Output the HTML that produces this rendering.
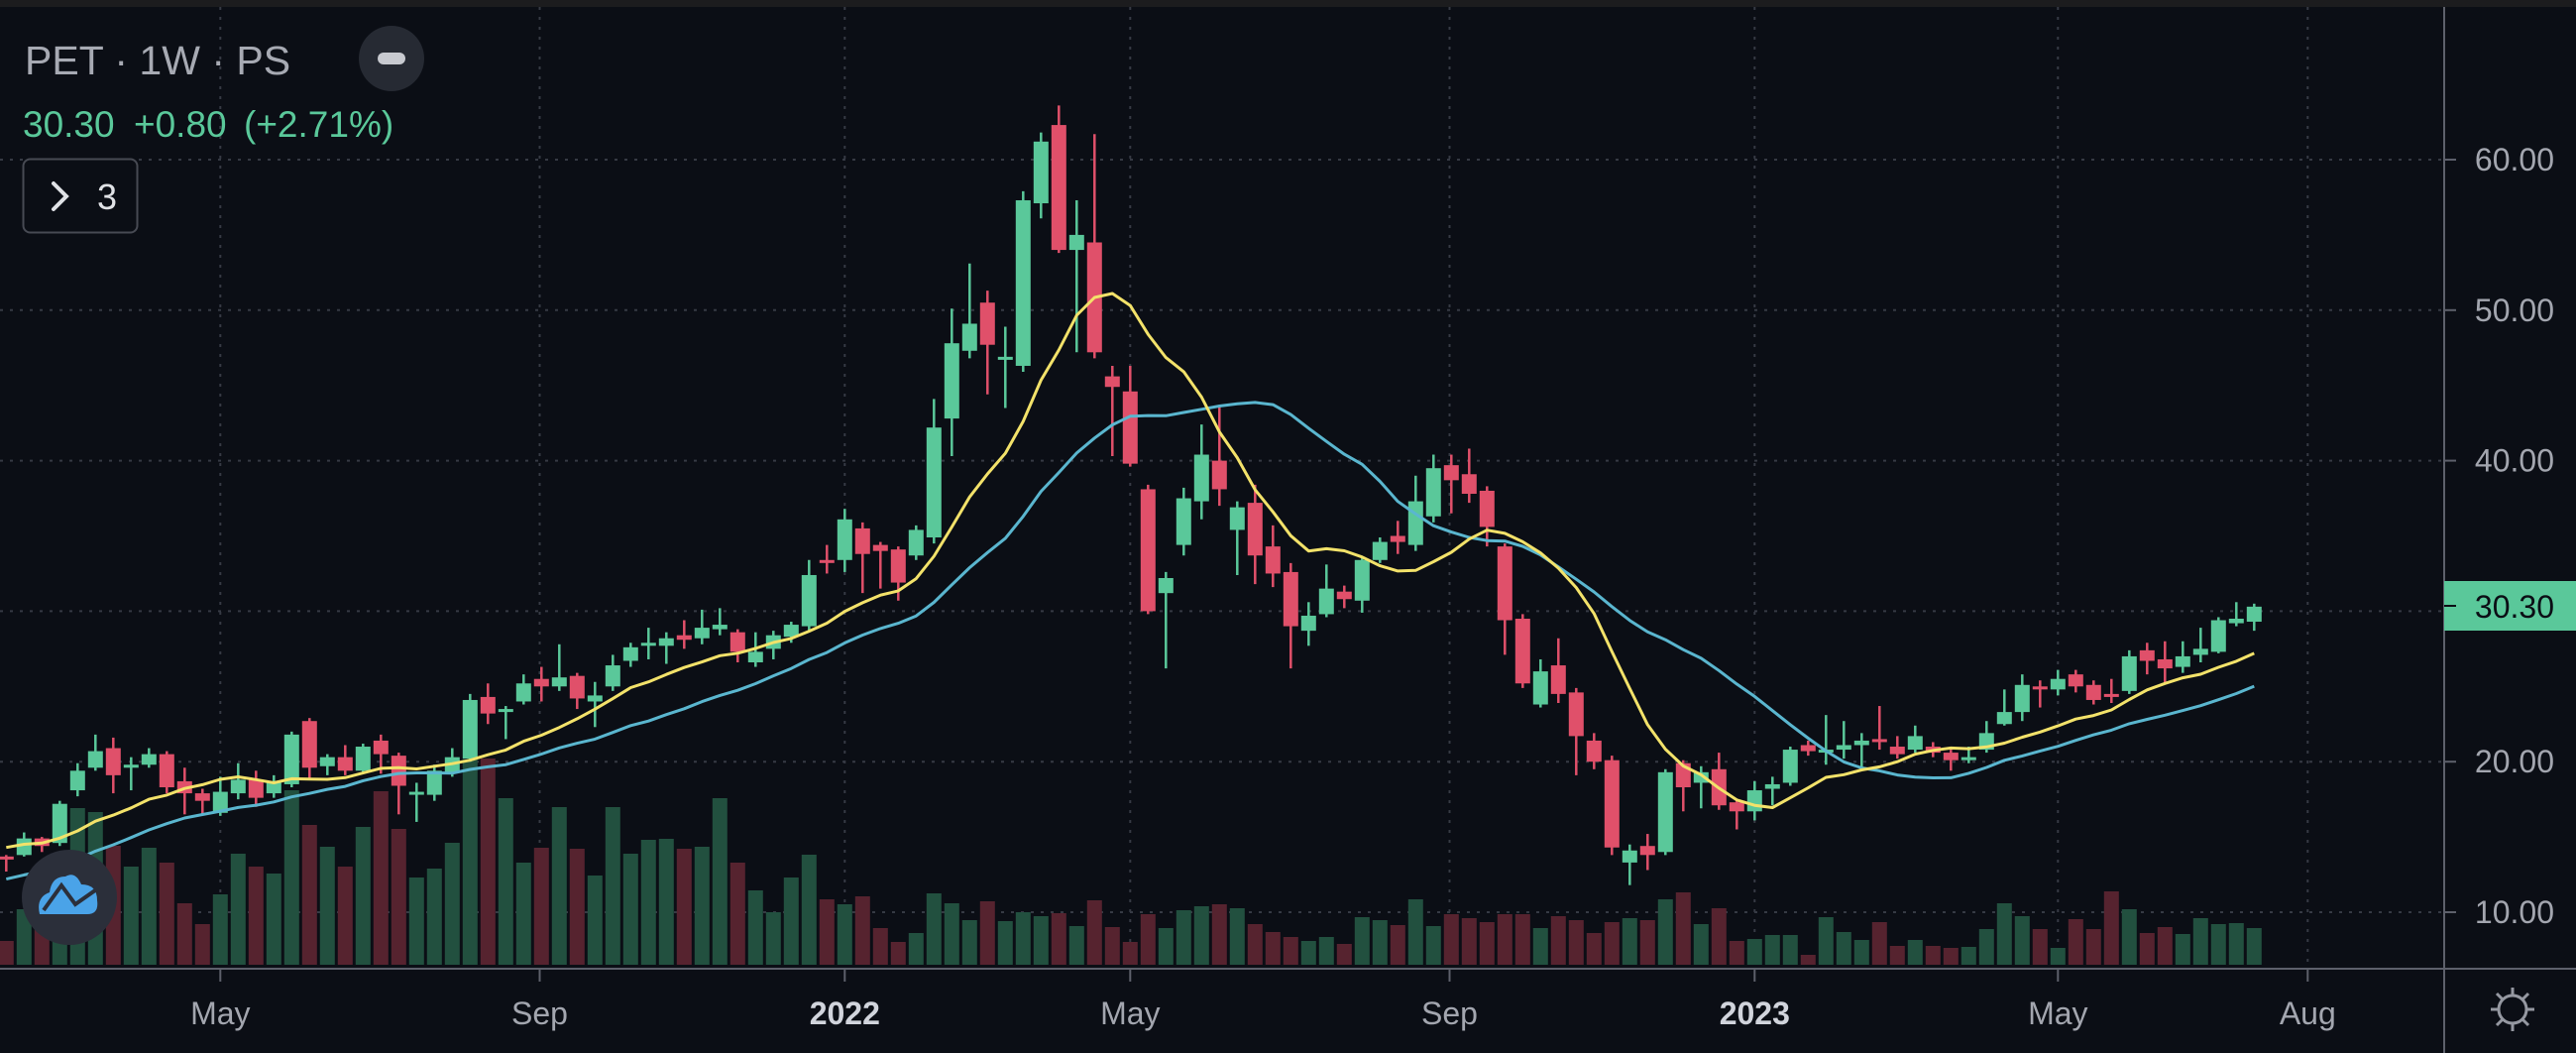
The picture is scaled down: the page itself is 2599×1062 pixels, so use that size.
<!DOCTYPE html>
<html><head><meta charset="utf-8"><style>
html,body{margin:0;padding:0;background:#0b0e15;}
svg{display:block;}
text{font-family:"Liberation Sans","DejaVu Sans",sans-serif;}
</style></head><body>
<svg id="chart" width="2599" height="1062" viewBox="0 0 2599 1062" xmlns="http://www.w3.org/2000/svg">
<rect x="0" y="0" width="2599" height="1062" fill="#0b0e15"/>
<rect x="0" y="0" width="2599" height="7" fill="#1c1c1e"/>
<g id="grid"></g>
<g id="volumes"></g>
<g id="candles"></g>
<g id="mas"></g>
<line x1="2466" y1="7" x2="2466" y2="1062" stroke="#5d606b" stroke-width="2"/>
<line x1="0" y1="977" x2="2599" y2="977" stroke="#5d606b" stroke-width="2"/>
<g id="yaxis"></g>
<g id="xaxis"></g>
<g>
<rect x="2466" y="586" width="133" height="50" fill="#5ac89a"/>
<line x1="2466" y1="611" x2="2478" y2="611" stroke="#0b0e15" stroke-width="2"/>
<text x="2577" y="623" font-size="32" fill="#0b0e15" text-anchor="end">30.30</text>
</g>
<g>
<text x="25" y="75" font-size="41" fill="#a7aab3">PET · 1W · PS</text>
<text x="23" y="138" font-size="37" fill="#5ac89a">30.30</text>
<text x="135" y="138" font-size="37" fill="#5ac89a">+0.80</text>
<text x="246" y="138" font-size="37" fill="#5ac89a">(+2.71%)</text>
</g>
<g>
<circle cx="395" cy="59" r="33" fill="#262a33"/>
<rect x="381" y="53" width="28" height="12" rx="6" fill="#c8cad0"/>
</g>
<g>
<rect x="23.5" y="160.5" width="115" height="74" rx="7" fill="#0b0e15" stroke="#474a53" stroke-width="2"/>
<path d="M54 185 L67 198 L54 211" fill="none" stroke="#e0e2e6" stroke-width="4" stroke-linecap="round"/>
<text x="98" y="211" font-size="36" fill="#e0e2e6">3</text>
</g>
<g>
<ellipse cx="70" cy="905" rx="48" ry="48" fill="#2b2f3a"/>
<path d="M40 922 Q36 905 50 900 Q52 884 66 884 Q76 878 82 892 Q98 892 98 908 Q100 922 88 922 Z" fill="#4aa3e8"/>
<path d="M44 918 L62 893 L76 912 L96 898" fill="none" stroke="#2b2f3a" stroke-width="4"/>
</g>
<g transform="translate(2535,1018)">
<circle r="14" fill="none" stroke="#9598a1" stroke-width="3"/>
<path d="M0 -22 V-14 M0 14 V22 M-22 0 H-14 M14 0 H22 M-16 -16 L-10 -10 M10 10 L16 16 M-16 16 L-10 10 M10 -10 L16 -16" stroke="#9598a1" stroke-width="3"/>
</g>
</svg>
<script>
// ---- data ----
const priorCloses = [9.4,9.8,10.3,9.9,10.1,10.6,10.2,10.4,10.0,10.3,12.8,13.6,13.9,14.6,14.2,15.1,15.0,14.8,15.5];
const opens = [13.7,13.8,14.9,14.6,18.1,19.6,20.9,19.6,19.8,20.5,18.7,17.9,16.6,17.9,18.8,17.9,18.5,22.7,19.7,20.3,
19.4,21.4,20.4,17.9,17.8,19.3,20.2,24.3,23.3,24.0,25.5,25.0,25.7,24.0,25.0,26.7,27.7,27.7,28.4,28.2,
28.8,28.6,26.6,27.5,28.3,29.0,33.4,33.4,35.5,34.4,34.1,33.7,34.9,42.8,47.3,50.5,46.7,46.3,57.1,62.3,
54.0,54.5,45.6,44.6,38.1,31.2,34.4,37.3,40.0,35.4,37.2,34.3,32.6,28.7,29.8,31.3,30.7,33.4,35.0,34.4,
36.3,39.7,39.1,38.0,34.3,29.5,23.8,26.4,24.6,21.4,20.1,13.3,14.4,14.0,19.9,18.6,19.5,17.3,16.7,18.2,
18.6,21.1,20.7,20.8,21.1,21.5,21.0,20.8,21.0,20.6,20.1,20.8,22.5,23.3,25.0,24.8,25.8,25.1,24.5,24.7,
27.4,26.8,26.3,27.1,27.3,29.2,29.3];
const closes = [13.5,14.9,14.4,17.2,19.4,20.7,19.1,19.8,20.5,18.3,17.9,17.4,18.0,18.8,17.6,18.6,21.8,19.6,20.3,19.4,
21.0,20.5,18.4,18.0,19.4,20.3,24.1,23.2,23.5,25.2,25.0,25.6,24.2,24.4,26.4,27.6,27.9,28.2,28.1,28.9,
29.1,27.3,27.3,28.4,29.1,32.4,33.2,36.1,33.8,34.0,31.9,35.4,42.2,47.8,49.1,47.7,46.9,57.3,61.2,54.0,
55.0,47.2,44.9,39.8,30.0,32.2,37.5,40.4,38.1,36.9,33.7,32.5,29.0,29.7,31.5,30.8,33.4,34.6,34.6,37.3,
39.5,38.7,37.8,35.6,29.4,25.2,26.0,24.5,21.7,20.0,14.3,14.1,13.8,19.3,18.3,19.3,17.1,16.7,18.1,18.5,
20.8,20.7,20.8,21.1,21.4,21.4,20.5,21.7,20.6,20.1,20.3,21.9,23.3,25.1,24.8,25.5,25.0,24.1,24.3,27.0,
26.7,26.2,27.0,27.5,29.4,29.5,30.3];
const highs = [13.8,15.3,15.0,17.4,19.9,21.8,21.6,20.3,20.9,20.7,19.6,18.2,19.0,19.9,19.4,19.1,22.0,22.9,20.5,21.1,
21.2,21.8,20.6,18.6,19.8,20.9,24.5,25.2,23.7,25.8,26.3,27.8,25.9,25.3,27.1,27.9,28.9,28.6,29.4,30.1,
30.2,28.8,28.6,28.7,29.3,33.4,34.4,36.8,35.9,34.6,34.3,35.7,44.1,50.1,53.1,51.3,48.9,57.9,61.8,63.6,
57.3,61.7,46.3,46.3,38.4,32.6,38.2,42.4,43.7,37.3,38.4,35.7,33.2,30.6,33.1,31.7,33.6,34.9,36.0,39.0,
40.4,40.4,40.8,38.3,34.5,29.8,26.8,28.2,24.9,21.9,20.4,14.5,15.2,19.5,20.1,19.7,20.6,17.5,18.7,19.0,
21.0,21.4,23.1,22.7,21.9,23.7,21.7,22.4,21.3,20.8,21.0,22.7,24.8,25.8,25.4,26.1,26.1,25.4,25.5,27.4,
27.9,28.0,28.0,28.9,29.6,30.6,30.5];
const lows = [12.7,13.7,14.0,14.4,17.7,19.4,17.9,18.1,19.6,17.9,16.5,16.5,16.4,17.5,17.0,17.6,18.3,18.8,19.1,19.1,
19.2,19.2,16.5,16.0,17.4,19.0,20.0,22.5,21.5,23.8,24.0,24.7,23.5,22.3,24.7,26.3,26.8,26.5,27.5,27.8,
28.4,26.6,26.3,26.8,27.9,28.7,32.5,32.6,31.2,31.5,30.7,33.4,34.5,40.3,46.8,44.4,43.5,45.9,56.1,53.8,
47.2,46.8,40.3,39.6,29.8,26.2,33.7,36.1,37.0,32.4,31.8,31.6,26.2,27.7,29.6,30.2,29.9,33.2,33.8,34.0,
35.9,36.5,37.2,34.3,27.1,24.9,23.6,23.9,19.1,19.5,13.8,11.8,12.8,13.8,16.7,16.9,16.8,15.5,16.1,17.1,
18.4,20.4,19.8,20.2,19.4,20.8,20.2,20.6,20.3,19.4,19.9,20.6,22.4,22.7,23.6,24.4,24.6,23.8,23.9,24.5,
25.8,25.2,25.9,26.6,27.2,29.0,28.7];
const volumes = [24,56,39,96,158,154,120,99,118,103,62,41,71,112,99,92,176,141,119,99,
139,175,137,88,97,123,207,208,168,103,118,159,117,90,159,112,126,127,117,119,
168,103,75,53,88,111,66,61,69,37,23,32,72,62,45,64,44,53,49,52,
39,65,38,23,51,37,55,59,61,57,41,33,28,24,28,21,48,45,40,66,
39,51,47,43,51,51,37,49,45,32,43,47,45,66,73,41,57,24,26,30,
30,10,48,33,25,43,19,25,19,17,18,36,62,49,36,17,46,36,74,56,
32,38,31,47,41,42,37];
const priceTicks = [10,20,30,40,50,60];
const priceTickLabels = ["10.00","20.00","30.00","40.00","50.00","60.00"];
const timeTickIndex = [12,29.9,47,63,80.9,98,115,129];
const timeTickLabels = ["May","Sep","2022","May","Sep","2023","May","Aug"];
const timeTickBold = [false,false,true,false,false,true,false,false];
const maFastLen = 10, maSlowLen = 20;

// ---- scales ----
const NS="http://www.w3.org/2000/svg";
const X0=6.3, STEP=18.0;
function xScale(i){return X0+i*STEP;}
function yScale(p){return 161+(60-p)*15.18;}
function volScale(v){return 973-v;}
function mk(tag,attrs,parent){const e=document.createElementNS(NS,tag);for(const k in attrs)e.setAttribute(k,attrs[k]);parent.appendChild(e);return e;}

const grid=document.getElementById('grid');
priceTicks.forEach((p,k)=>{
  const l=mk('line',{x1:0,x2:2466,y1:yScale(p),y2:yScale(p),stroke:'#363a44','stroke-width':2,'stroke-dasharray':'3 7'},grid);
  
  
});
timeTickIndex.forEach((t,k)=>{
  const l=mk('line',{x1:xScale(t),x2:xScale(t),y1:7,y2:977,stroke:'#363a44','stroke-width':2,'stroke-dasharray':'3 7'},grid);
  
  
});

const vg=document.getElementById('volumes');
volumes.forEach((v,i)=>{
  const up=closes[i]>=opens[i];
  const r=mk('rect',{x:xScale(i)-7.5,y:volScale(v),width:15,height:973-volScale(v),fill:up?'#22503f':'#56232f'},vg);
  
  
});

const cg=document.getElementById('candles');
opens.forEach((o,i)=>{
  const c=closes[i], up=c>=o, col=up?'#5ac89a':'#e0506a', x=xScale(i);
  const g=mk('g',{},cg);
  
  
  mk('line',{x1:x,x2:x,y1:yScale(highs[i]),y2:yScale(lows[i]),stroke:col,'stroke-width':2.5},g);
  const top=yScale(Math.max(o,c)), bot=yScale(Math.min(o,c));
  mk('rect',{x:x-7.5,y:top,width:15,height:Math.max(3,bot-top),fill:col},g);
});

function sma(len){
  const all=priorCloses.concat(closes), off=priorCloses.length, out=[];
  for(let i=0;i<closes.length;i++){let s=0;for(let k=0;k<len;k++)s+=all[off+i-k];out.push(s/len);}
  return out;
}
const mg=document.getElementById('mas');
[[maSlowLen,'#5ab6cf','ma-slow-line'],[maFastLen,'#f3e26a','ma-fast-line']].forEach(([len,col,name])=>{
  const vals=sma(len);
  const d=vals.map((v,i)=>(i?'L':'M')+xScale(i).toFixed(1)+' '+yScale(v).toFixed(1)).join(' ');
  const p=mk('path',{d:d,fill:'none',stroke:col,'stroke-width':3,'stroke-linejoin':'round'},mg);
  
  
});

const ya=document.getElementById('yaxis');
priceTicks.forEach((p,k)=>{
  mk('line',{x1:2466,x2:2478,y1:yScale(p),y2:yScale(p),stroke:'#5d606b','stroke-width':2},ya);
  const t=mk('text',{x:2577,y:yScale(p)+11,'font-size':32,fill:'#a3a6af','text-anchor':'end'},ya);
  t.textContent=priceTickLabels[k];
  
  
});
const xa=document.getElementById('xaxis');
timeTickIndex.forEach((ti,k)=>{
  const x=xScale(ti);
  mk('line',{x1:x,x2:x,y1:977,y2:990,stroke:'#5d606b','stroke-width':2},xa);
  const t=mk('text',{x:x,y:1033,'font-size':32,fill:timeTickBold[k]?'#d1d4dc':'#a3a6af','text-anchor':'middle','font-weight':timeTickBold[k]?'bold':'normal'},xa);
  t.textContent=timeTickLabels[k];
  
  
});
</script>
</body></html>
